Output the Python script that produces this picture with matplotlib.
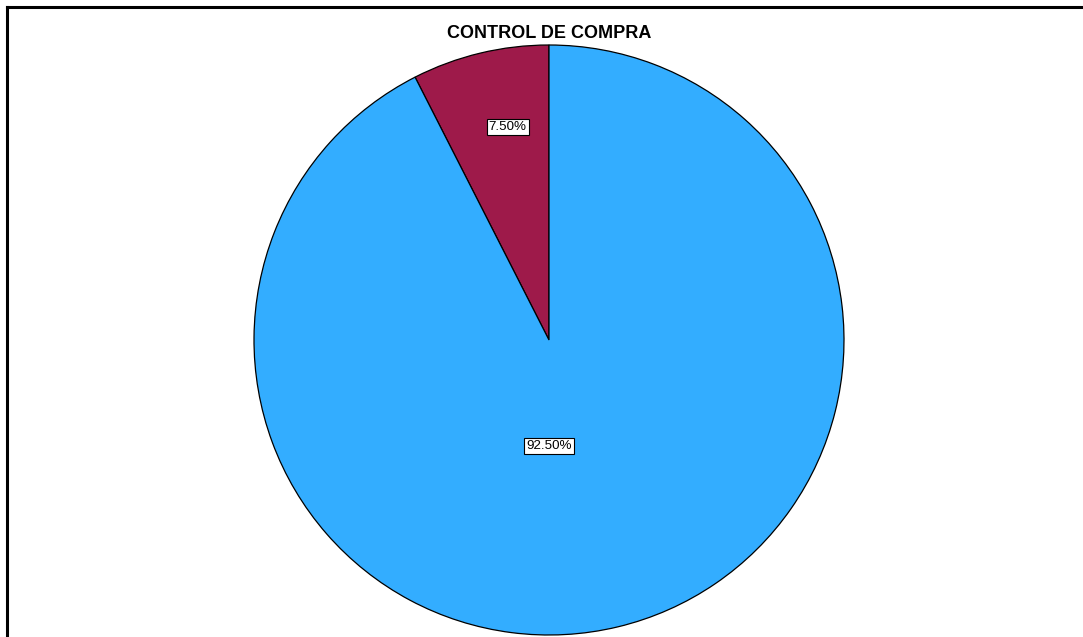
import matplotlib
matplotlib.use("Agg")
import matplotlib.pyplot as plt
from matplotlib.lines import Line2D
import numpy as np

title = "CONTROL DE COMPRA"
categories = ["No", "Sí"]
values = [7.5, 92.5]
colors = ["#9E1A4A", "#33ADFF"]
label_angle = [101, 270]
label_radius = [0.735, 0.36]

W, H = 1083, 637
fig = plt.figure(figsize=(W / 100, H / 100), dpi=100)
fig.patch.set_facecolor("white")

cx, cy, R = 549, 340, 295
ax = fig.add_axes([(cx - R) / W, (H - cy - R) / H, 2 * R / W, 2 * R / H])
wedges, _ = ax.pie(values, colors=colors, startangle=90, counterclock=True,
                   radius=1.0, wedgeprops=dict(edgecolor="black", linewidth=0.9))
ax.set_xlim(-1, 1)
ax.set_ylim(-1, 1)
ax.set_aspect("auto")
ax.axis("off")

for v, a, rf in zip(values, label_angle, label_radius):
    ang = np.deg2rad(a)
    ax.text(rf * np.cos(ang), rf * np.sin(ang), f"{v:.2f}%", ha="center", va="center",
            fontsize=9.6, family="Liberation Sans",
            bbox=dict(boxstyle="square,pad=0.15", facecolor="white", edgecolor="black", linewidth=0.8))

fig.text(549.5 / W, 1 - 33 / H, title, ha="center", va="center", fontsize=13,
         fontweight="bold", family="Liberation Sans")

fig.add_artist(Line2D([7 / W, 7 / W], [0, 1 - 7 / H], color="black", linewidth=2.2, transform=fig.transFigure))
fig.add_artist(Line2D([7 / W, 1], [1 - 7 / H, 1 - 7 / H], color="black", linewidth=2.2, transform=fig.transFigure))

fig.savefig("out.png", dpi=100)
